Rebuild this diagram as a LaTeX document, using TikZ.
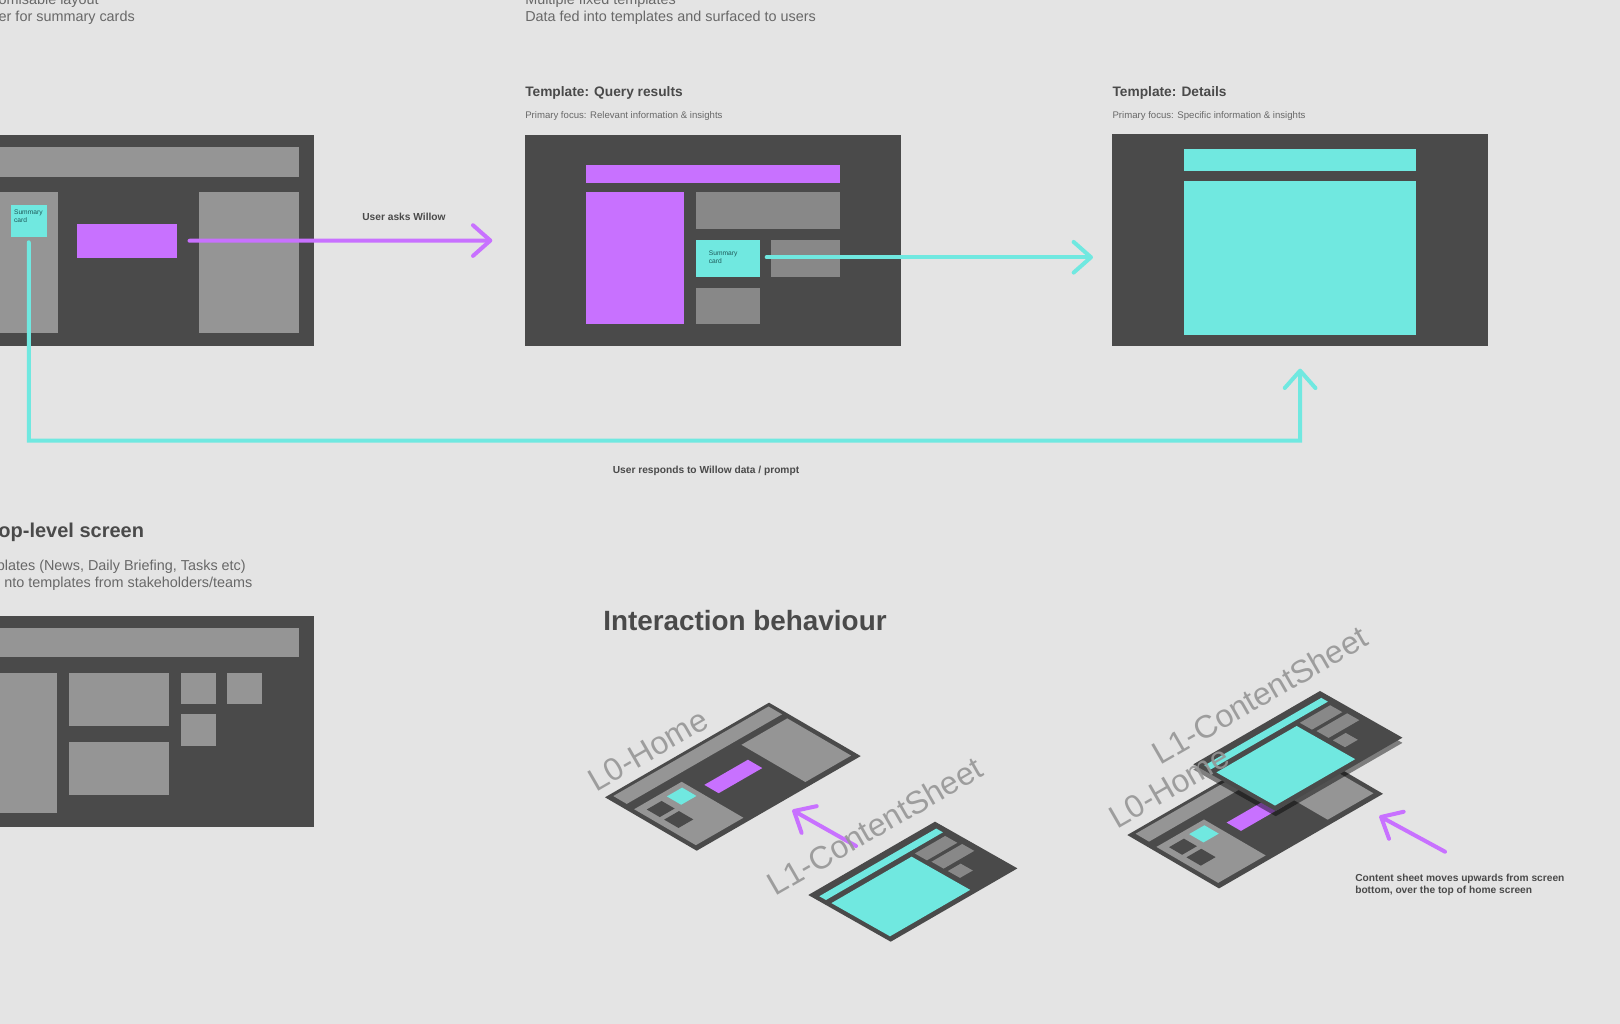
\documentclass[tikz,border=0pt]{standalone}
\usepackage{xcolor}
\usepackage{fontspec}
\setmainfont{Liberation Sans}
\usetikzlibrary{arrows.meta, positioning, calc}
\definecolor{WillowBack}{RGB}{228, 228, 228}
\definecolor{WillowPanel}{RGB}{74, 74, 74}
\definecolor{WillowGrey}{RGB}{149, 149, 149}
\definecolor{WillowGreyDark}{RGB}{136, 136, 136}
\definecolor{WillowPurple}{RGB}{200, 113, 255}
\definecolor{WillowTeal}{RGB}{112, 232, 224}
\definecolor{WillowText}{RGB}{74, 74, 74}
\definecolor{WillowNote}{RGB}{104, 104, 104}
\definecolor{WillowCardText}{RGB}{30, 90, 90}
\definecolor{WillowTag}{RGB}{150, 150, 150}
\tikzset{
  wh/.style 2 args={minimum width=#1*0.75pt, minimum height=#2*0.75pt},
  block/.style={anchor=north west, inner sep=0pt, outer sep=0pt},
  panel/.style={block, fill=WillowPanel},
  greyblock/.style={block, fill=WillowGrey},
  darkblock/.style={block, fill=WillowGreyDark},
  purpleblock/.style={block, fill=WillowPurple},
  tealblock/.style={block, fill=WillowTeal},
  cardtext/.style={anchor=west, inner sep=0pt, align=left, text=WillowCardText,
    font=\fontsize{5}{6}\selectfont},
  title/.style={anchor=west, inner sep=0pt, text=WillowText,
    font=\fontsize{10.3}{12}\selectfont\bfseries},
  subtitle/.style={anchor=west, inner sep=0pt, text=WillowNote,
    font=\fontsize{7.2}{8}\selectfont},
  body/.style={inner sep=0pt, text=WillowNote,
    font=\fontsize{10.8}{12}\selectfont},
  caption/.style={inner sep=0pt, text=WillowText, align=left,
    font=\fontsize{7.65}{9.5}\selectfont\bfseries},
  sheettag/.style={inner sep=0pt, rotate=30, text=WillowTag, opacity=0.9,
    font=\fontsize{24}{26}\selectfont},
  flow/.style={line width=3pt, line cap=round,
    -{Straight Barb[length=13pt, width=23pt, line width=3pt, round]}},
  homeiso/.style={cm={0.4362,0.2516,-0.4346,0.2531,(#1)}},
  sheetiso/.style={cm={0.337,0.195,-0.3905,0.2213,(#1)}}
}
% flat layouts, put on the slant by homeiso and sheetiso
\newcommand{\homelayout}{
  \fill[WillowPanel] (0,0) rectangle (376,211);
  \fill[WillowGrey] (12,7) rectangle (368,38);
  \fill[WillowGrey] (10,57) rectangle (119,199);
  \fill[WillowGrey] (261,52) rectangle (366,199);
  \fill[WillowPurple] (139,89) rectangle (239,122);
  \fill[WillowTeal] (73,69) rectangle (108,102);
  \fill[WillowPanel] (24,72) rectangle (58,102);
  \fill[WillowPanel] (24,112) rectangle (58,145);
}
\newcommand{\sheetlayout}{
  \fill[WillowPanel] (0,0) rectangle (376,211);
  \fill[WillowTeal] (13,17) rectangle (360,34);
  \fill[WillowTeal] (13,48) rectangle (251,198);
  \fill[WillowGreyDark] (264,45) rectangle (354,76);
  \fill[WillowGreyDark] (267,85) rectangle (358,116);
  \fill[WillowGreyDark] (267,127) rectangle (305,158);
}
\begin{document}
\begin{tikzpicture}[x=0.75pt, y=-0.75pt]
    \path[use as bounding box, clip] (0,0) rectangle (1620,1024);
    \fill[WillowBack] (0,0) rectangle (1620,1024);

    % home screen
    \node[body, anchor=east] (homenoteone) at (99,1) {omisable layout};
    \node[body, anchor=east] (homenotetwo) at (135,17.7) {er for summary cards};
    \node[panel, wh={314}{211}] (homepanel) at (0,135) {};
    \node[greyblock, wh={299}{29.5}] (homebar) at (0,147) {};
    \node[greyblock, wh={57.5}{141}] (homeleft) at (0,192) {};
    \node[greyblock, wh={100}{141}] (homeright) at (199,192) {};
    \node[purpleblock, wh={100}{33.5}] (askblock) at (77,224) {};
    \node[tealblock, wh={35.5}{32.4}] (homecard) at (11,204.6) {};
    \node[cardtext] (homecardtext) at (13.8,216) {Summary\\card};

    % query results
    \node[body, anchor=west] (querynoteone) at (525,1) {Multiple fixed templates};
    \node[body, anchor=west] (querynotetwo) at (525,17.7) {Data fed into templates and surfaced to users};
    \node[title] (querytitle) at (525,92.5) {Template: Query results};
    \node[subtitle] (querysub) at (525,116) {Primary focus: Relevant information \& insights};
    \node[panel, wh={376}{211}] (querypanel) at (525,135) {};
    \node[purpleblock, wh={254}{18.6}] (querybar) at (586,164.7) {};
    \node[purpleblock, wh={97.7}{132.3}] (querycolumn) at (586,192) {};
    \node[darkblock, wh={143.6}{36.7}] (querywide) at (696.4,192.3) {};
    \node[tealblock, wh={63.6}{37}] (querycard) at (696.4,239.7) {};
    \node[cardtext] (querycardtext) at (708.6,257) {Summary\\card};
    \node[darkblock, wh={69.4}{37}] (queryside) at (770.6,239.7) {};
    \node[darkblock, wh={63.6}{36.6}] (querylow) at (696.4,287.7) {};

    % details
    \node[title] (detailstitle) at (1112.3,92.5) {Template: Details};
    \node[subtitle] (detailssub) at (1112.3,116) {Primary focus: Specific information \& insights};
    \node[panel, wh={375.7}{212}] (detailspanel) at (1112.3,134) {};
    \node[tealblock, wh={232.6}{21.4}] (detailsbar) at (1183.7,149.3) {};
    \node[tealblock, wh={232.6}{154}] (detailsmain) at (1183.7,181.3) {};

    % flows between the screens
    \draw[flow, WillowPurple, shorten <=9.4pt, shorten >=24.5pt] (askblock.east) -- (querypanel.west);
    \node[caption] (asklabel) at (404,217) {User asks Willow};
    \draw[flow, WillowTeal, shorten <=5pt, shorten >=14.5pt] ([yshift=0.7pt]querycard.east) -- ([yshift=0.7pt]querycard.east -| detailspanel.west);
    \coordinate (replyturn) at (1300,440.7);
    \draw[flow, WillowTeal, shorten <=4pt, shorten >=17pt] (homecard.south) |- (replyturn) -- (detailspanel.south);
    \node[caption] (replylabel) at (706,470.7) {User responds to Willow data / prompt};

    % top-level screen
    \node[title, anchor=east, font=\fontsize{15}{17}\selectfont\bfseries] (toptitle) at (144.3,532.7) {op-level screen};
    \node[body, anchor=east] (topnoteone) at (246,566.7) {plates (News, Daily Briefing, Tasks etc)};
    \node[body, anchor=east] (topnotetwo) at (252.7,583.8) {nto templates from stakeholders/teams};
    \node[panel, wh={314}{211}] (toppanel) at (0,615.7) {};
    \node[greyblock, wh={299}{29.6}] (topbar) at (0,627.7) {};
    \node[greyblock, wh={57.3}{140.6}] (topleft) at (0,672.7) {};
    \node[greyblock, wh={100}{53.6}] (topwideone) at (69,672.7) {};
    \node[greyblock, wh={100}{53.6}] (topwidetwo) at (69,741.7) {};
    \node[greyblock, wh={35}{31.6}] (topsmallone) at (180.7,672.7) {};
    \node[greyblock, wh={35.3}{31.6}] (topsmalltwo) at (226.7,672.7) {};
    \node[greyblock, wh={35}{32}] (topsmallthree) at (180.7,713.7) {};

    % interaction behaviour
    \node[title, font=\fontsize{20.9}{24}\selectfont\bfseries] (behaviourtitle) at (603,621) {Interaction behaviour};

    \begin{scope}[homeiso={605,797.3}]
      \homelayout
    \end{scope}
    \begin{scope}[sheetiso={808.3,895}]
      \sheetlayout
    \end{scope}
    \coordinate (risetail) at (856,846);
    \coordinate (risetip) at (792.3,810);
    \draw[flow, WillowPurple] (risetail) -- (risetip);
    \node[sheettag] (hometagone) at (648,750) {L0-Home};
    \node[sheettag] (sheettagone) at (875,826) {L1-ContentSheet};

    \begin{scope}[homeiso={1127.3,835}]
      \homelayout
    \end{scope}
    \begin{scope}[sheetiso={1193.3,769.5}]
      \fill[black, opacity=0.45] (0,0) rectangle (376,211);
    \end{scope}
    \begin{scope}[sheetiso={1193.3,764.3}]
      \sheetlayout
    \end{scope}
    \coordinate (overtail) at (1445,851.7);
    \coordinate (overtip) at (1379.3,816);
    \draw[flow, WillowPurple] (overtail) -- (overtip);
    \node[sheettag] (hometagtwo) at (1169,787.3) {L0-Home};
    \node[sheettag] (sheettagtwo) at (1260,695) {L1-ContentSheet};
    \node[caption, anchor=north west] (overlabel) at (1355,873.5) {Content sheet moves upwards from screen\\bottom, over the top of home screen};
\end{tikzpicture}
\end{document}
